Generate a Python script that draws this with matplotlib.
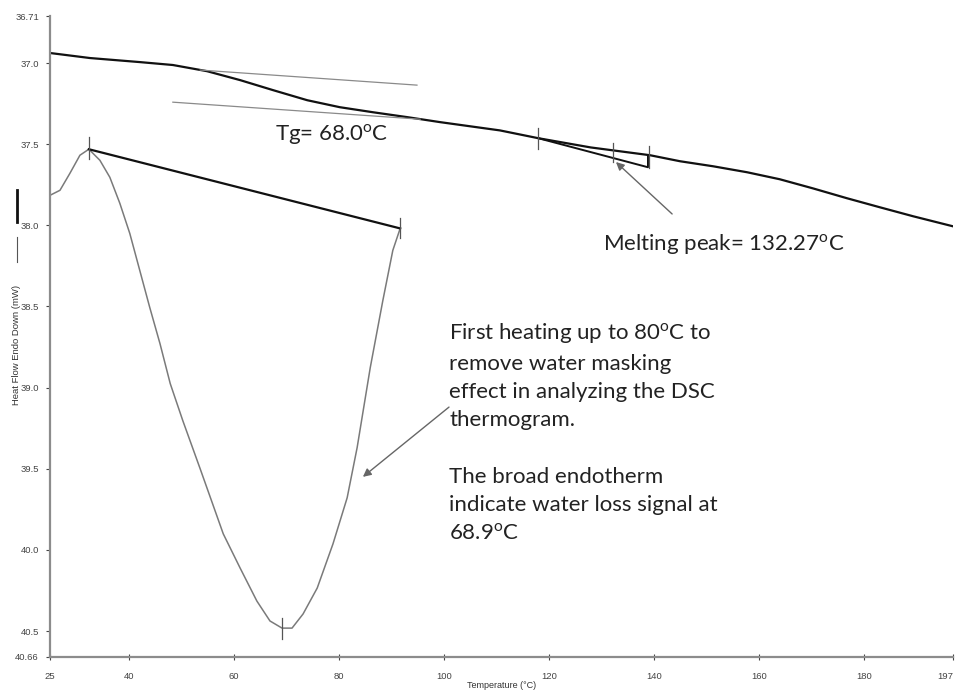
import matplotlib.pyplot as plt

plt.rcParams['font.family'] = ['Lato', 'DejaVu Sans']
plt.rcParams['mathtext.fontset'] = 'custom'
plt.rcParams['mathtext.rm'] = 'Lato'

# second heating (black, thick)
t_second = [25.0, 32.6, 42.1, 48.4, 54.9, 61.2, 67.5, 74.0, 80.2, 86.5, 93.0,
            99.3, 110.7, 118.0, 128.0, 139.3, 145.0, 151.3, 157.8, 164.0,
            170.3, 176.8, 183.1, 189.4, 197.0]
h_second = [36.938, 36.969, 36.994, 37.012, 37.050, 37.105, 37.167, 37.229,
            37.272, 37.303, 37.333, 37.364, 37.415, 37.463, 37.520, 37.568,
            37.605, 37.636, 37.673, 37.716, 37.772, 37.833, 37.889, 37.944,
            38.006]

# first heating up to 80 C (gray, thin)
t_first = [25.0, 26.9, 28.8, 30.7, 32.4, 34.5, 36.4, 38.3, 40.2, 42.1, 44.0,
           45.95, 47.9, 50.3, 53.6, 55.5, 58.0, 61.2, 64.4, 66.9, 69.2, 71.1,
           73.2, 75.9, 78.9, 81.6, 83.5, 86.0, 88.4, 90.3, 91.7]
h_first = [37.815, 37.784, 37.679, 37.568, 37.531, 37.599, 37.704, 37.864,
           38.050, 38.278, 38.506, 38.729, 38.975, 39.204, 39.500, 39.673,
           39.901, 40.111, 40.315, 40.438, 40.482, 40.482, 40.395, 40.235,
           39.963, 39.679, 39.370, 38.877, 38.463, 38.154, 38.019]

# analysis lines
tg_tan1_t = [53.6, 94.9]
tg_tan1_h = [37.043, 37.136]
tg_tan2_t = [48.4, 95.5]
tg_tan2_h = [37.241, 37.346]
melt_t = [118.0, 138.9, 138.9]
melt_h = [37.463, 37.642, 37.568]
base_t = [32.4, 91.7]
base_h = [37.531, 38.019]

# small vertical markers: (temperature, low, high)
markers = [(118.0, 37.401, 37.531), (132.2, 37.494, 37.611),
           (139.1, 37.512, 37.648), (32.4, 37.457, 37.593),
           (69.2, 40.42, 40.55), (91.7, 37.957, 38.08)]

x_ticks = [25, 40, 60, 80, 100, 120, 140, 160, 180, 197]
y_ticks = [36.71, 37.0, 37.5, 38.0, 38.5, 39.0, 39.5, 40.0, 40.5, 40.66]
y_labels = ['36.71', '37.0', '37.5', '38.0', '38.5', '39.0', '39.5', '40.0',
            '40.5', '40.66']

small = ['Liberation Sans', 'DejaVu Sans']

fig = plt.figure(figsize=(9.59, 6.91), dpi=100)
ax = fig.add_axes([50 / 959, 1 - 657 / 691, 903 / 959, 641 / 691])

ax.plot(t_second, h_second, color='#111111', lw=1.6)
ax.plot(t_first, h_first, color='#7a7a7a', lw=1.1)
ax.plot(tg_tan1_t, tg_tan1_h, color='#8a8a8a', lw=0.9)
ax.plot(tg_tan2_t, tg_tan2_h, color='#8a8a8a', lw=0.9)
ax.plot(melt_t, melt_h, color='#111111', lw=1.4)
ax.plot(base_t, base_h, color='#111111', lw=1.6)
for t, lo, hi in markers:
    ax.plot([t, t], [lo, hi], color='#555555', lw=0.9)

ax.set_xlim(25, 197)
ax.set_ylim(40.66, 36.71)
ax.set_xticks(x_ticks)
ax.set_xticklabels([str(v) for v in x_ticks])
ax.set_yticks(y_ticks)
ax.set_yticklabels(y_labels)
ax.tick_params(labelsize=6.8, colors='#444444', length=3, width=0.8)
ax.tick_params(axis='x', direction='inout', length=4, pad=9)
ax.tick_params(axis='y', direction='out', length=3, pad=5)
for s in ['top', 'right']:
    ax.spines[s].set_visible(False)
for s in ['left', 'bottom']:
    ax.spines[s].set_color('#8c8c8c')
    ax.spines[s].set_linewidth(1.6)

ax.set_xlabel('Temperature (°C)', fontsize=6.5, color='#333333', family=small)
ax.xaxis.set_label_coords(0.5, -0.037)
for lab in ax.get_xticklabels() + ax.get_yticklabels():
    lab.set_family(small)
ax.get_xticklabels()[-1].set_ha('right')

# y label with the small legend strokes
fig.text(17 / 959, 1 - 345 / 691, 'Heat Flow Endo Down (mW)', rotation=90,
         fontsize=6.8, color='#333333', ha='center', va='center', family=small)
fig.add_artist(plt.Line2D([17 / 959, 17 / 959], [1 - 190 / 691, 1 - 222 / 691],
                          color='#111111', lw=2.0))
fig.add_artist(plt.Line2D([17 / 959, 17 / 959], [1 - 237 / 691, 1 - 262 / 691],
                          color='#555555', lw=0.8))

# annotations
ax.text(67.9, 37.44, r'Tg= 68.0$^{\mathrm{o}}$C', fontsize=16, color='#222222',
        ha='left', va='center')
ax.text(130.3, 38.12, r'Melting peak= 132.27$^{\mathrm{o}}$C', fontsize=16,
        color='#222222', ha='left', va='center')
ax.annotate('', xy=(132.8, 37.61), xytext=(143.5, 37.93),
            arrowprops=dict(arrowstyle='-|>', color='#666666', lw=1.0,
                            mutation_scale=12, shrinkA=0, shrinkB=0))
ax.text(101.0, 38.59,
        'First heating up to 80$^{\\mathrm{o}}$C to\nremove water masking\n'
        'effect in analyzing the DSC\nthermogram.\n\nThe broad endotherm\n'
        'indicate water loss signal at\n68.9$^{\\mathrm{o}}$C',
        fontsize=16, color='#222222', ha='left', va='top', linespacing=1.51)
ax.annotate('', xy=(84.6, 39.55), xytext=(101.0, 39.12),
            arrowprops=dict(arrowstyle='-|>', color='#666666', lw=1.0,
                            mutation_scale=12, shrinkA=0, shrinkB=0))

fig.savefig('out.png', dpi=100)
